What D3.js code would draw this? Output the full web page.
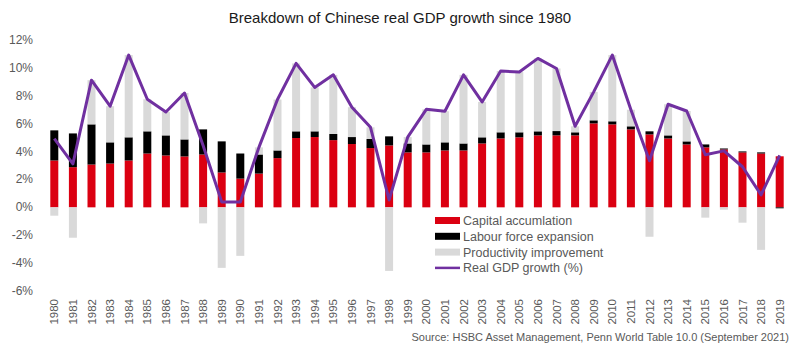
<!DOCTYPE html>
<meta charset="utf-8">
<style>
    body { margin: 0; background: #fff; }
    svg text { font-family: "Liberation Sans", Arial, sans-serif; fill: #595959; }
    .title { fill: #1a1a1a; }
</style>

<svg width="800" height="349"></svg>

<script src="https://cdn.jsdelivr.net/npm/d3@7"></script>

<script>
    var years = d3.range(1980, 2020).map(String);
    // contributions to growth, percentage points
    var capital = [3.36, 2.88, 3.07, 3.14, 3.36, 3.86, 3.72, 3.65, 3.79, 2.50,
                   2.06, 2.42, 3.53, 4.97, 5.04, 4.82, 4.54, 4.25, 4.44, 3.94,
                   3.94, 4.08, 4.08, 4.58, 4.94, 5.02, 5.16, 5.16, 5.16, 6.02,
                   5.95, 5.59, 5.23, 4.94, 4.51, 4.30, 4.15, 3.94, 3.86, 3.66];
    var labour = [2.16, 2.42, 2.88, 1.52, 1.66, 1.59, 1.44, 1.22, 1.80, 2.23,
                  1.80, 1.37, 0.55, 0.48, 0.41, 0.44, 0.50, 0.65, 0.65, 0.64,
                  0.57, 0.58, 0.50, 0.44, 0.44, 0.36, 0.29, 0.31, 0.22, 0.22,
                  0.22, 0.22, 0.22, 0.22, 0.22, 0.21, 0.07, 0.07, 0.08, -0.07];
    var productivity = [-0.60, -2.18, 3.17, 2.59, 5.90, 2.30, 1.68, 3.33, -1.15, -4.34,
                        -3.48, 0.51, 3.65, 4.87, 3.15, 4.24, 2.14, 0.84, -4.56, 0.46,
                        2.52, 2.23, 4.92, 2.54, 4.39, 4.32, 5.23, 4.49, 0.43, 2.04,
                        4.75, 1.19, -2.11, 2.23, 2.18, -0.74, -0.17, -1.10, -3.05, 0.00];
    var gdpGrowth = [4.92, 3.12, 9.12, 7.25, 10.92, 7.75, 6.84, 8.20, 4.44, 0.39,
                     0.38, 4.30, 7.73, 10.32, 8.60, 9.50, 7.18, 5.74, 0.53, 5.04,
                     7.03, 6.89, 9.50, 7.56, 9.77, 9.70, 10.68, 9.96, 5.81, 8.28,
                     10.92, 7.00, 3.34, 7.39, 6.91, 3.77, 4.05, 2.91, 0.89, 3.72];
    var yTicks = [-6, -4, -2, 0, 2, 4, 6, 8, 10, 12];

    var series = [
        {name: "Capital accumlation", values: capital, color: "#db0011"},
        {name: "Labour force expansion", values: labour, color: "#000000"},
        {name: "Productivity improvement", values: productivity, color: "#d9d9d9"}
    ];
    var lineColor = "#7030a0";

    (function () {
        var svg = d3.select("svg"),
            plotLeft = 45, plotRight = 789, plotTop = 40, plotBottom = 291;

        var x = d3.scaleBand().domain(years).range([plotLeft, plotRight]).paddingInner(0.57).paddingOuter(0.285);
        var y = d3.scaleLinear().domain([-6, 12]).range([plotBottom, plotTop]);

        svg.append("text")
            .attr("class", "title")
            .attr("x", 400).attr("y", 23)
            .attr("text-anchor", "middle")
            .style("font-size", "15px")
            .text("Breakdown of Chinese real GDP growth since 1980");

        // y axis: labels only
        svg.append("g").selectAll("text")
            .data(yTicks)
            .enter().append("text")
            .attr("x", 33)
            .attr("y", function (d) { return y(d) + 4; })
            .attr("text-anchor", "end")
            .style("font-size", "12px")
            .text(function (d) { return d + "%"; });

        // stacked bars: positives build up from zero, negatives build down
        var bars = svg.append("g");
        years.forEach(function (yr, i) {
            var pos = 0, neg = 0;
            series.forEach(function (s) {
                var v = s.values[i], y0, y1;
                if (v >= 0) { y0 = pos; y1 = pos + v; pos = y1; }
                else { y0 = neg; y1 = neg + v; neg = y1; }
                bars.append("rect")
                    .attr("x", x(yr))
                    .attr("width", x.bandwidth())
                    .attr("y", y(Math.max(y0, y1)))
                    .attr("height", Math.abs(y(y0) - y(y1)))
                    .attr("fill", s.color);
            });
        });

        var line = d3.line()
            .x(function (d, i) { return x(years[i]) + x.bandwidth() / 2; })
            .y(function (d) { return y(d); });

        svg.append("path")
            .datum(gdpGrowth)
            .attr("d", line)
            .attr("fill", "none")
            .attr("stroke", lineColor)
            .attr("stroke-width", 3)
            .attr("stroke-linejoin", "round");

        // year labels, rotated
        svg.append("g").selectAll("text")
            .data(years)
            .enter().append("text")
            .attr("transform", function (d) {
                return "translate(" + [x(d) + x.bandwidth() / 2 + 4, 299] + ") rotate(-90)";
            })
            .attr("text-anchor", "end")
            .style("font-size", "11.5px")
            .text(function (d) { return d; });

        // legend
        var legend = svg.append("g").attr("transform", "translate(435,215)");
        series.forEach(function (s, i) {
            legend.append("rect")
                .attr("x", 0).attr("y", i * 15.8 + 2)
                .attr("width", 25).attr("height", 7)
                .attr("fill", s.color);
            legend.append("text")
                .attr("x", 28).attr("y", i * 15.8 + 10)
                .style("font-size", "12.5px")
                .text(s.name);
        });
        legend.append("line")
            .attr("x1", 0).attr("x2", 25)
            .attr("y1", 3 * 15.8 + 5.5).attr("y2", 3 * 15.8 + 5.5)
            .attr("stroke", lineColor).attr("stroke-width", 2.5);
        legend.append("text")
            .attr("x", 28).attr("y", 3 * 15.8 + 10)
            .style("font-size", "12.5px")
            .text("Real GDP growth (%)");

        svg.append("text")
            .attr("x", 789).attr("y", 341)
            .attr("text-anchor", "end")
            .style("font-size", "11px")
            .text("Source: HSBC Asset Management, Penn World Table 10.0 (September 2021)");
    })();
</script>
